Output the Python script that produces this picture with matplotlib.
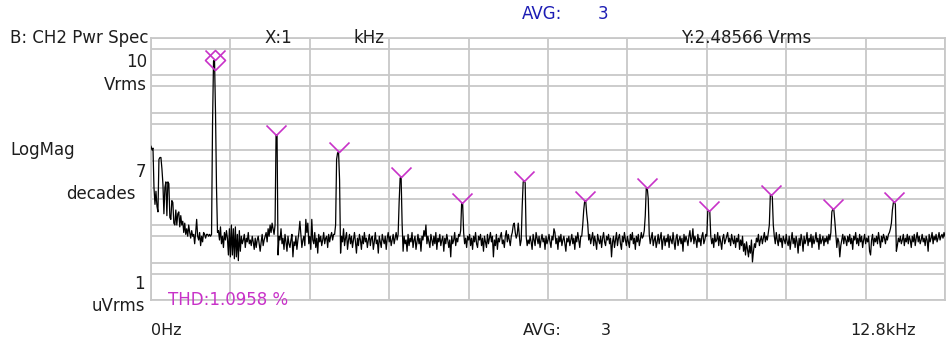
import numpy as np
import matplotlib
matplotlib.use("Agg")
import matplotlib.pyplot as plt
from matplotlib.path import Path
from matplotlib.ticker import FixedLocator

W, H = 947, 340

bin_hz = 16          # 800 lines over 12.8 kHz
span_hz = 12800

# power spectrum, dBV per bin
trace_dbv = [
    -38, -40, -39, -60, -69, -62, -70, -73, -45, -44, -44, -50, -58, -74, -60, -57, -75, -57, -58, -76,
    -77, -67, -68, -79, -80, -72, -80, -74, -73, -81, -75, -80, -78, -84, -79, -85, -82, -86, -80, -84,
    -87, -83, -86, -85, -90, -84, -77, -86, -88, -84, -91, -86, -89, -84, -85, -87, -85, -85, -86, -85,
    -86, -85, -26, 7.5, 7.91, -20, -60, -84, -83, -88, -81, -90, -86, -92, -84, -88, -83, -87, -96, -82,
    -97, -80, -96, -82, -98, -81, -97, -85, -99, -83, -94, -86, -90, -88, -85, -92, -87, -89, -84, -90,
    -88, -91, -86, -89, -93, -87, -92, -88, -86, -90, -94, -89, -85, -91, -88, -86, -84, -89, -82, -86,
    -80, -84, -79, -82, -85, -80, -31.9, -32.3, -96, -86, -88, -82, -90, -87, -93, -85, -89, -94, -86, -90,
    -92, -88, -85, -97, -89, -91, -86, -93, -88, -84, -78, -85, -92, -88, -86, -91, -77, -84, -79, -90,
    -86, -93, -77, -88, -90, -84, -92, -87, -95, -85, -89, -86, -91, -88, -84, -90, -87, -86, -92, -85,
    -89, -86, -84, -88, -85, -85, -80, -45, -41.5, -41.3, -56, -95, -86, -89, -82, -91, -87, -84, -93, -88,
    -85, -90, -86, -92, -88, -84, -89, -95, -87, -91, -85, -88, -93, -86, -90, -84, -89, -87, -92, -88,
    -85, -91, -87, -86, -93, -89, -84, -90, -88, -95, -86, -89, -92, -85, -88, -90, -86, -93, -87, -84,
    -89, -86, -91, -88, -85, -90, -87, -84, -88, -85, -68, -55, -54.3, -79, -94, -86, -90, -88, -94, -85,
    -91, -87, -89, -84, -92, -88, -86, -93, -89, -85, -90, -87, -94, -86, -88, -83, -86, -80, -90, -86,
    -89, -92, -85, -88, -91, -86, -90, -84, -93, -87, -89, -85, -91, -88, -86, -94, -87, -90, -85, -88,
    -92, -88, -97, -86, -90, -88, -84, -91, -87, -89, -85, -86, -83, -68.2, -68.5, -84, -90, -87, -92, -86,
    -88, -85, -91, -87, -93, -86, -89, -84, -90, -92, -86, -88, -85, -91, -87, -94, -86, -89, -92, -85,
    -90, -87, -84, -89, -86, -97, -88, -91, -85, -93, -87, -89, -86, -84, -90, -88, -92, -86, -83, -89,
    -85, -88, -91, -86, -84, -80, -79, -84, -87, -85, -79, -85, -91, -88, -70, -57, -56.5, -57.5, -86, -91,
    -88, -90, -86, -89, -93, -85, -88, -91, -84, -87, -90, -86, -92, -88, -85, -89, -87, -93, -86, -90,
    -88, -85, -89, -92, -86, -88, -82, -84, -90, -87, -93, -86, -89, -85, -91, -88, -86, -90, -94, -87,
    -89, -86, -91, -88, -85, -90, -87, -93, -86, -89, -84, -88, -92, -86, -86, -80, -72, -67, -67.2, -74,
    -79, -88, -85, -90, -87, -84, -91, -86, -89, -93, -85, -88, -90, -86, -92, -87, -84, -89, -91, -86,
    -88, -85, -90, -87, -97, -89, -86, -92, -88, -84, -91, -87, -85, -90, -93, -86, -89, -84, -88, -91,
    -86, -89, -92, -85, -88, -84, -90, -87, -93, -86, -89, -85, -91, -88, -84, -87, -86, -83, -75, -60.5,
    -60.2, -66, -85, -90, -87, -84, -91, -88, -86, -92, -89, -85, -90, -87, -84, -93, -88, -86, -91, -87,
    -89, -85, -92, -86, -88, -90, -84, -89, -93, -87, -85, -91, -88, -86, -90, -87, -94, -85, -89, -86,
    -88, -91, -86, -83, -89, -87, -82, -90, -86, -88, -92, -85, -89, -87, -91, -86, -84, -90, -88, -85,
    -86, -72.6, -72.5, -72.7, -86, -90, -87, -92, -85, -89, -88, -84, -91, -86, -89, -93, -87, -85, -90, -88,
    -86, -84, -89, -87, -91, -85, -88, -90, -86, -92, -87, -89, -85, -93, -88, -91, -86, -94, -90, -96,
    -89, -93, -97, -91, -95, -88, -99.7, -94, -90, -92, -87, -89, -85, -91, -88, -86, -90, -87, -84, -89,
    -86, -88, -84, -80, -64.2, -64, -65, -80, -86, -90, -84, -88, -91, -85, -89, -87, -92, -86, -88, -90,
    -85, -89, -91, -86, -93, -88, -84, -90, -87, -92, -86, -89, -95, -87, -91, -85, -88, -94, -86, -90,
    -88, -84, -91, -87, -89, -85, -92, -86, -90, -88, -84, -89, -87, -93, -85, -90, -88, -86, -91, -87,
    -89, -86, -90, -85, -88, -84, -73, -71.4, -72, -78, -85, -92, -87, -89, -97, -91, -88, -85, -90, -86,
    -88, -91, -86, -89, -85, -90, -87, -93, -86, -88, -84, -90, -87, -91, -85, -89, -86, -92, -88, -85,
    -90, -87, -89, -86, -94, -96, -88, -85, -91, -87, -89, -86, -90, -84, -88, -92, -86, -89, -85, -87,
    -90, -86, -88, -85, -84, -82, -79, -72, -68, -67.7, -69, -94, -91, -87, -89, -86, -90, -88, -85, -91,
    -87, -89, -85, -90, -86, -88, -92, -86, -89, -85, -91, -87, -84, -89, -86, -90, -88, -85, -89, -87,
    -91, -86, -88, -94, -85, -89, -87, -84, -90, -86, -88, -85, -89, -87, -84, -88, -86, -85, -87, -84,
    -86,
]

# bins of fundamental and harmonics 2..12 (marker positions)
peak_bins = [64, 126, 189, 252, 313, 376, 437, 500, 562, 625, 687, 749]

y_decades = [1e-6, 1e-5, 1e-4, 1e-3, 1e-2, 1e-1, 1e0, 1e1]
y_fives = [5e-6, 5e-5, 5e-4, 5e-3, 5e-2, 5e-1, 5e0]
x_divs = [0, 1280, 2560, 3840, 5120, 6400, 7680, 8960, 10240, 11520, 12800]

grid_col = "#c8c8c8"
mag = "#c832c8"
txt = "#1e1e1e"

freq = np.arange(len(trace_dbv)) * bin_hz
vrms = 10 ** (np.array(trace_dbv) / 20.0)

plt.rcParams['font.family'] = 'DejaVu Sans'

fig = plt.figure(figsize=(W / 100, H / 100), dpi=100)
ax = fig.add_axes([151 / W, 40 / H, 794 / W, 262.5 / H])
ax.set_yscale('log')
ax.set_xlim(0, span_hz)
ax.set_ylim(1e-6, 10)
ax.xaxis.set_major_locator(FixedLocator(x_divs))
ax.yaxis.set_major_locator(FixedLocator(y_decades))
ax.yaxis.set_minor_locator(FixedLocator(y_fives))
ax.tick_params(which='both', length=0, labelbottom=False, labelleft=False)
ax.grid(which='both', color=grid_col, linewidth=1.3)
ax.set_axisbelow(True)
for s in ax.spines.values():
    s.set_color(grid_col)
    s.set_linewidth(1.3)

ax.plot(freq, vrms, color='black', linewidth=0.9, zorder=3)

# harmonic markers: "V" above each peak, diamond on the fundamental
vee = Path([(-1, 1), (0, 0), (1, 1)], [Path.MOVETO, Path.LINETO, Path.LINETO])
diamond = Path([(0, 1), (1, 0), (0, -1), (-1, 0), (0, 1)],
               [Path.MOVETO, Path.LINETO, Path.LINETO, Path.LINETO, Path.CLOSEPOLY])
ax.plot(freq[peak_bins], vrms[peak_bins], linestyle='none', marker=vee, markersize=14.4,
        markerfacecolor='none', markeredgecolor=mag, markeredgewidth=1.2, zorder=4)
ax.plot(freq[peak_bins[0]], vrms[peak_bins[0]], linestyle='none', marker=diamond, markersize=14.4,
        markerfacecolor='none', markeredgecolor=mag, markeredgewidth=1.2, zorder=4)


def put(x, y, s, ha='left', color=txt, size=12):
    fig.text(x / W, 1 - y / H, s, ha=ha, va='baseline', color=color, fontsize=size)


put(542, 19, "AVG:", ha='center', color="#1c1cb4")
put(603, 19, "3", ha='center', color="#1c1cb4")
put(10, 43, "B: CH2 Pwr Spec")
put(278, 43, "X:1", ha='center')
put(369, 43, "kHz", ha='center')
put(746, 43, "Y:2.48566 Vrms", ha='center')

put(147, 67, "10", ha='right')
put(147, 90, "Vrms", ha='right')
put(10, 155, "LogMag")
put(146, 177, "7", ha='right')
put(136, 199, "decades", ha='right')
put(145, 289, "1", ha='right')
put(145, 311, "uVrms", ha='right')
put(168, 305, "THD:1.0958 %", color=mag)

put(151, 335, "0Hz", size=11.5)
put(542, 335, "AVG:", ha='center', size=11.5)
put(606, 335, "3", ha='center', size=11.5)
put(883, 335, "12.8kHz", ha='center', size=11.5)

fig.savefig("out.png", dpi=100)
